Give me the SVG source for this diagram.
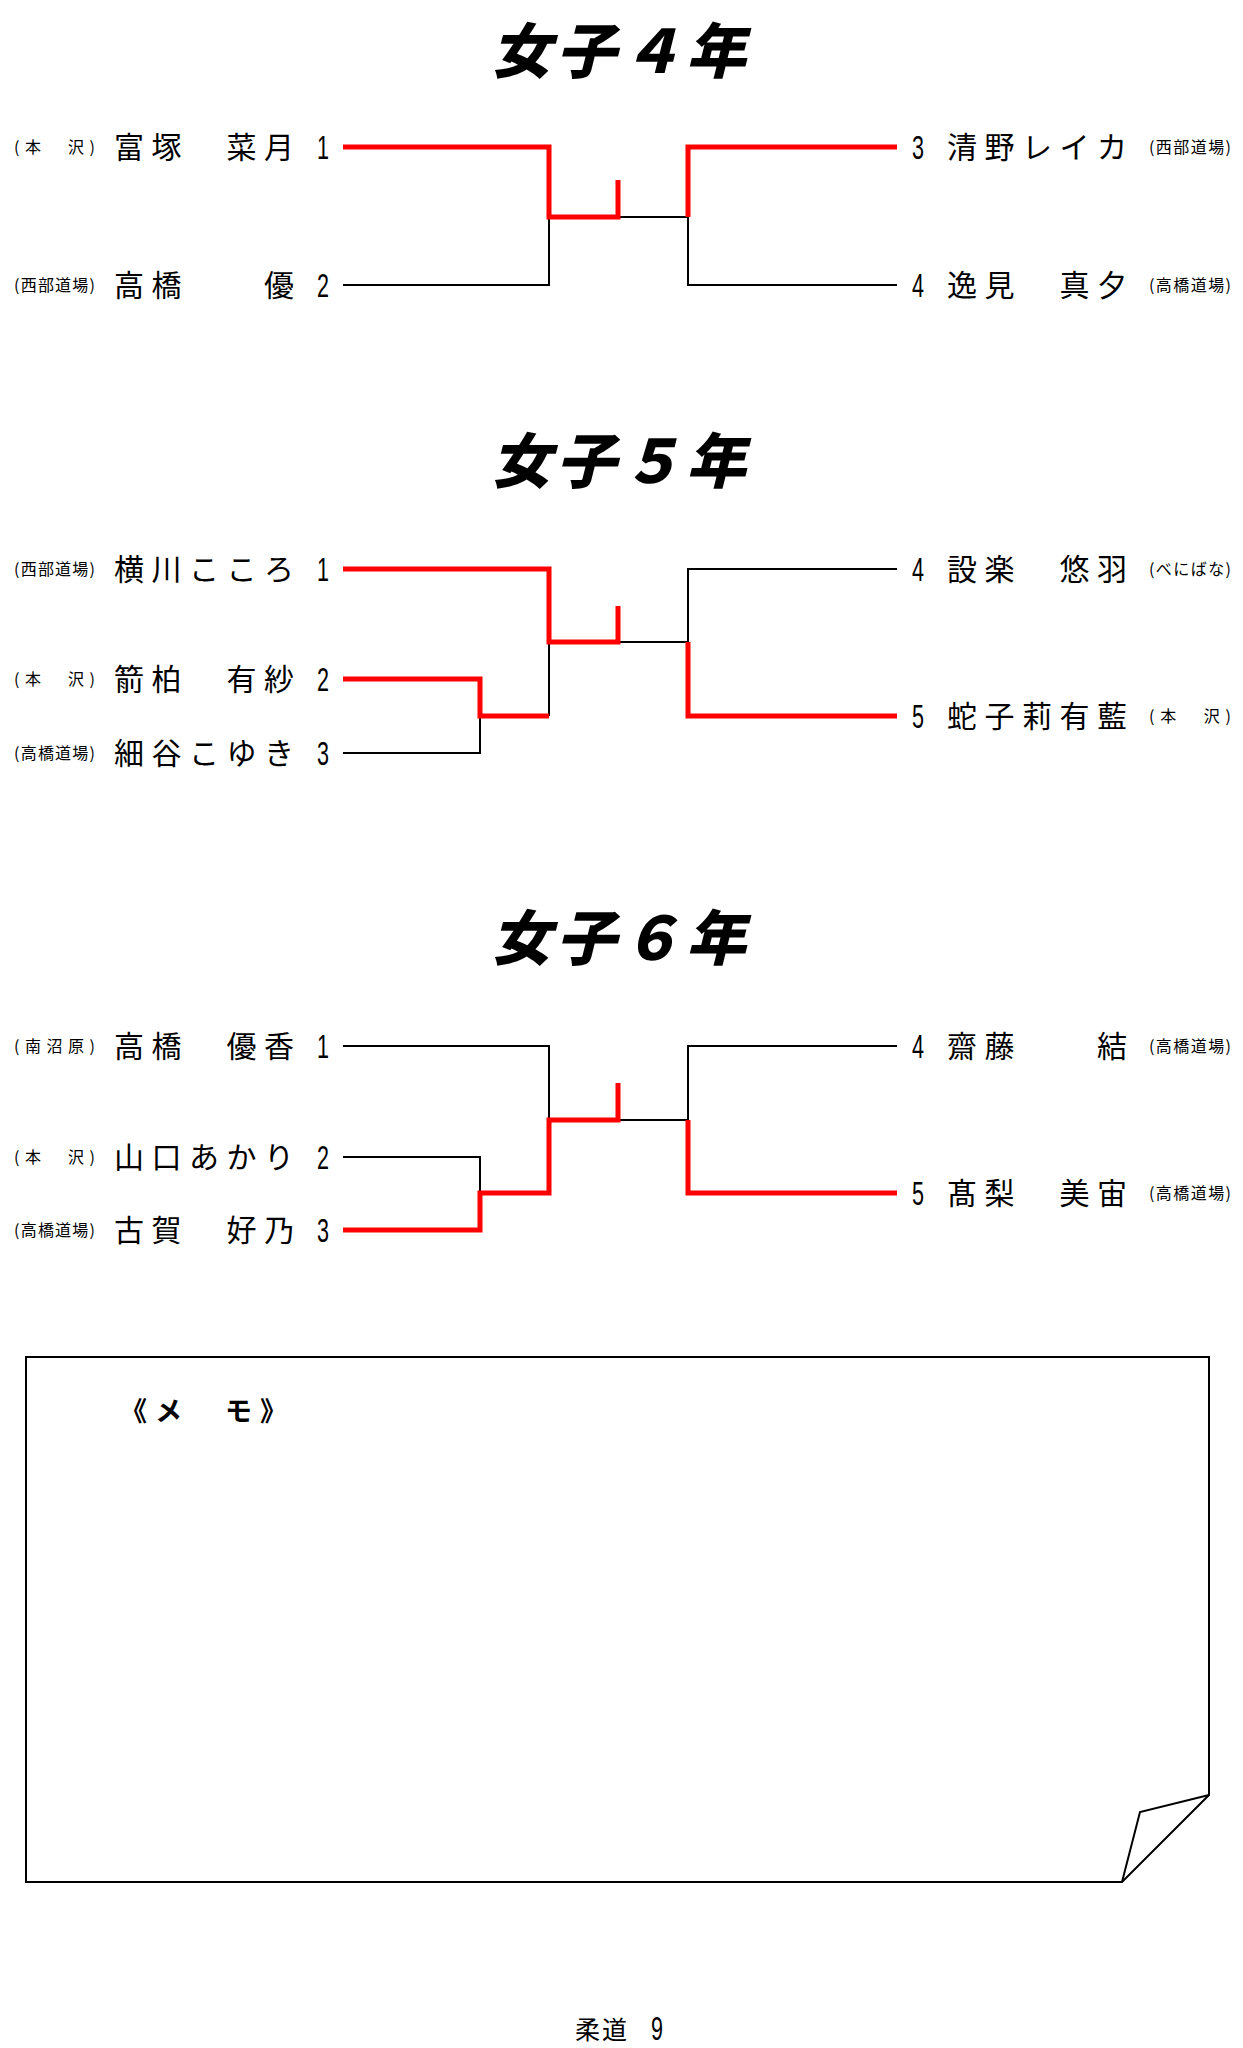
<svg xmlns="http://www.w3.org/2000/svg" width="1243" height="2048" viewBox="0 0 1243 2048">
<style>
.title{font-family:"Noto Sans CJK JP","Noto Sans CJK SC",sans-serif;font-size:60px;font-weight:900;fill:#000}
.name{font-family:"Noto Sans CJK JP","Noto Sans CJK SC",sans-serif;font-size:30px;letter-spacing:7.5px;fill:#000}
.club{font-family:"Noto Sans CJK JP","Noto Sans CJK SC",sans-serif;font-size:16px;fill:#000}
.num{font-family:"Liberation Sans",Arial,sans-serif;font-size:34px;fill:#000}
.blk{fill:none;stroke:#000;stroke-width:2}
.red{fill:none;stroke:#ff0000;stroke-width:5;stroke-linejoin:miter;stroke-linecap:butt}
.memo{fill:none;stroke:#000;stroke-width:2;stroke-linejoin:miter}
.memotxt{font-family:"Noto Sans CJK JP","Noto Sans CJK SC",sans-serif;font-size:27px;font-weight:700;letter-spacing:8px;fill:#000}
.foot{font-family:"Noto Sans CJK JP","Noto Sans CJK SC",sans-serif;font-size:25px;fill:#000}
</style>
<rect width="1243" height="2048" fill="#fff"/>

<!-- Titles -->
<g id="title4"><text class="title" transform="translate(621,73) skewX(-14)" text-anchor="middle" letter-spacing="5">女子４年</text></g>
<g id="title5"><text class="title" transform="translate(621,483) skewX(-14)" text-anchor="middle" letter-spacing="5">女子５年</text></g>
<g id="title6"><text class="title" transform="translate(621,960) skewX(-14)" text-anchor="middle" letter-spacing="5">女子６年</text></g>

<!-- Section 4 nodes -->
<g id="g4-1"><text class="club" x="14" y="153" textLength="81" lengthAdjust="spacing">(本　沢)</text><text class="name" x="114" y="158">富塚　菜月</text><text class="num" x="317" y="159" textLength="12" lengthAdjust="spacingAndGlyphs">1</text></g>
<g id="g4-2"><text class="club" x="14" y="291" textLength="81" lengthAdjust="spacing">(西部道場)</text><text class="name" x="114" y="296">高橋　　優</text><text class="num" x="317" y="297" textLength="12" lengthAdjust="spacingAndGlyphs">2</text></g>
<g id="g4-3"><text class="num" x="912" y="159" textLength="12" lengthAdjust="spacingAndGlyphs">3</text><text class="name" x="947" y="158">清野レイカ</text><text class="club" x="1149" y="153" textLength="82" lengthAdjust="spacing">(西部道場)</text></g>
<g id="g4-4"><text class="num" x="912" y="297" textLength="12" lengthAdjust="spacingAndGlyphs">4</text><text class="name" x="947" y="296">逸見　真夕</text><text class="club" x="1149" y="291" textLength="82" lengthAdjust="spacing">(高橋道場)</text></g>

<!-- Section 5 nodes -->
<g id="g5-1"><text class="club" x="14" y="575" textLength="81" lengthAdjust="spacing">(西部道場)</text><text class="name" x="114" y="580">横川こころ</text><text class="num" x="317" y="581" textLength="12" lengthAdjust="spacingAndGlyphs">1</text></g>
<g id="g5-2"><text class="club" x="14" y="685" textLength="81" lengthAdjust="spacing">(本　沢)</text><text class="name" x="114" y="690">箭柏　有紗</text><text class="num" x="317" y="691" textLength="12" lengthAdjust="spacingAndGlyphs">2</text></g>
<g id="g5-3"><text class="club" x="14" y="759" textLength="81" lengthAdjust="spacing">(高橋道場)</text><text class="name" x="114" y="764">細谷こゆき</text><text class="num" x="317" y="765" textLength="12" lengthAdjust="spacingAndGlyphs">3</text></g>
<g id="g5-4"><text class="num" x="912" y="581" textLength="12" lengthAdjust="spacingAndGlyphs">4</text><text class="name" x="947" y="580">設楽　悠羽</text><text class="club" x="1149" y="575" textLength="82" lengthAdjust="spacing">(べにばな)</text></g>
<g id="g5-5"><text class="num" x="912" y="728" textLength="12" lengthAdjust="spacingAndGlyphs">5</text><text class="name" x="947" y="727">蛇子莉有藍</text><text class="club" x="1149" y="722" textLength="82" lengthAdjust="spacing">(本　沢)</text></g>

<!-- Section 6 nodes -->
<g id="g6-1"><text class="club" x="14" y="1052" textLength="81" lengthAdjust="spacing">(南沼原)</text><text class="name" x="114" y="1057">高橋　優香</text><text class="num" x="317" y="1058" textLength="12" lengthAdjust="spacingAndGlyphs">1</text></g>
<g id="g6-2"><text class="club" x="14" y="1163" textLength="81" lengthAdjust="spacing">(本　沢)</text><text class="name" x="114" y="1168">山口あかり</text><text class="num" x="317" y="1169" textLength="12" lengthAdjust="spacingAndGlyphs">2</text></g>
<g id="g6-3"><text class="club" x="14" y="1236" textLength="81" lengthAdjust="spacing">(高橋道場)</text><text class="name" x="114" y="1241">古賀　好乃</text><text class="num" x="317" y="1242" textLength="12" lengthAdjust="spacingAndGlyphs">3</text></g>
<g id="g6-4"><text class="num" x="912" y="1058" textLength="12" lengthAdjust="spacingAndGlyphs">4</text><text class="name" x="947" y="1057">齋藤　　結</text><text class="club" x="1149" y="1052" textLength="82" lengthAdjust="spacing">(高橋道場)</text></g>
<g id="g6-5"><text class="num" x="912" y="1205" textLength="12" lengthAdjust="spacingAndGlyphs">5</text><text class="name" x="947" y="1204">髙梨　美宙</text><text class="club" x="1149" y="1199" textLength="82" lengthAdjust="spacing">(高橋道場)</text></g>

<!-- Connectors -->
<g id="connectors">
  <!-- section 4 -->
  <path class="blk" d="M343,285 H549 V217 M618,217 H688 M688,217 V285 H897"/>
  <path class="red" d="M343,147 H549 V217 H618 V180"/>
  <path class="red" d="M897,147 H688 V217"/>
  <!-- section 5 -->
  <path class="blk" d="M343,753 H480 V716 M549,642 V716 M618,642 H688 M688,642 V569 H897"/>
  <path class="red" d="M343,569 H549 V642 H618 V606"/>
  <path class="red" d="M343,679 H480 V716 H549"/>
  <path class="red" d="M897,716 H688 V642"/>
  <!-- section 6 -->
  <path class="blk" d="M343,1046 H549 V1120 M343,1157 H480 V1193 M618,1120 H688 M688,1120 V1046 H897"/>
  <path class="red" d="M343,1230 H480 V1193 H549 V1120 H618 V1083"/>
  <path class="red" d="M897,1193 H688 V1120"/>
</g>

<!-- Memo box -->
<g id="memo">
  <path class="memo" d="M26,1357 H1209 V1795 L1122,1882 H26 Z"/>
  <path class="memo" d="M1209,1795 L1140,1812 L1122,1882"/>
  <text class="memotxt" x="120" y="1421">《メ　モ》</text>
</g>

<!-- Footer -->
<g id="footer">
  <text class="foot" x="575" y="2039" letter-spacing="2">柔道</text>
  <text class="num" x="651" y="2040" font-size="30" textLength="12" lengthAdjust="spacingAndGlyphs">9</text>
</g>
</svg>
